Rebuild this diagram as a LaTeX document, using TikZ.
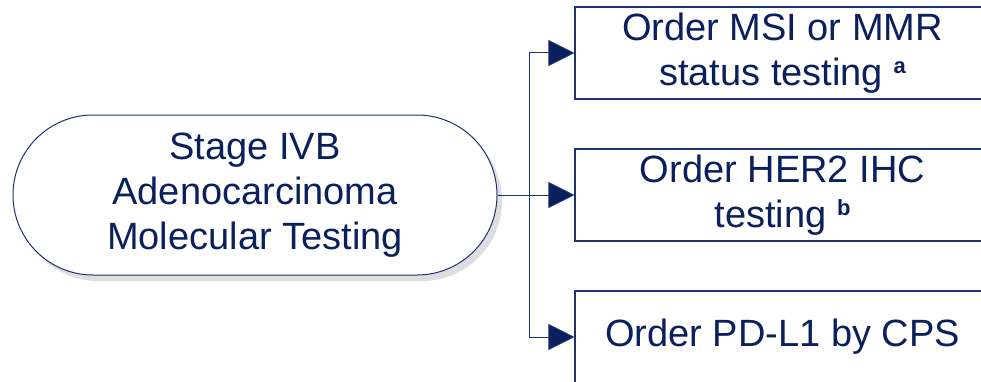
\documentclass[tikz,border=0pt]{standalone}
\usepackage{fontspec}
\setmainfont{Liberation Sans}
\usetikzlibrary{arrows.meta,shapes.misc,shadows}
\definecolor{navy}{RGB}{10,32,92}
\definecolor{lnavy}{RGB}{30,50,110}
\newcommand{\supmark}[1]{\raisebox{12pt}{\fontsize{22}{22}\selectfont\bfseries #1}}
\begin{document}
\begin{tikzpicture}[x=1pt,y=1pt,
  txt/.style={text=navy,font=\fontsize{38}{45}\selectfont,align=center},
  stadium/.style={txt,draw=lnavy,line width=1pt,rounded rectangle,fill=white,
    minimum width=484pt,minimum height=160pt,inner sep=0pt,
    drop shadow={shadow xshift=5pt,shadow yshift=-6pt,fill=black!13,opacity=1}},
  testbox/.style={txt,draw=lnavy,line width=1.1pt,fill=white,minimum width=415pt,
    minimum height=92pt,inner sep=0pt},
  conn/.style={draw=lnavy,line width=1pt},
  arr/.style={conn,-{Triangle[length=26pt,width=26pt,fill=navy]}}]
\useasboundingbox (0,0) rectangle (981,381);
\clip (0,0) rectangle (981,381);
\node[stadium] (stage) at (255,186) {Stage IVB\\Adenocarcinoma\\Molecular Testing};
\node[testbox] (msi) at (782.5,328) {Order MSI or MMR\\status testing \supmark{a}};
\node[testbox] (her) at (782.5,186) {Order HER2 IHC\\testing \supmark{b}};
\node[testbox] (pdl) at (782.5,44) {Order PD-L1 by CPS};
\coordinate (j) at (529,186);
\draw[arr] (stage.east) -- (her.west);
\draw[arr] (j) |- (msi.west);
\draw[arr] (j) |- (pdl.west);
\end{tikzpicture}
\end{document}
